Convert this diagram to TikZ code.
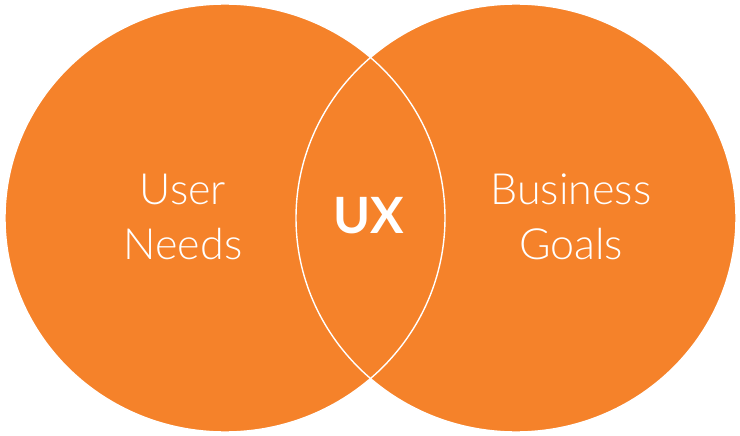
\documentclass[tikz,border=0pt]{standalone}
\usepackage{fontspec}
\newfontfamily\lightfont{Lato Light}
\newfontfamily\boldfont{Lato Bold}
\usetikzlibrary{positioning}
\definecolor{vennorange}{HTML}{F5822A}
\tikzset{
    venn/.style={fill=vennorange, draw=white, line width=1.4pt},
    label/.style={text=white, align=center, font=\lightfont\fontsize{43}{55}\selectfont},
    core/.style={text=white, font=\boldfont\fontsize{50}{50}\selectfont}
}
\begin{document}
\begin{tikzpicture}[x=1pt, y=-1pt]
    \useasboundingbox (0, 0) rectangle (740, 436);

    % Circles
    \fill[vennorange] (225, 218) ellipse [x radius=220, y radius=214];
    \fill[vennorange] (516, 218) ellipse [x radius=220, y radius=214];
    \draw[venn, fill=none] (225, 218) ellipse [x radius=220, y radius=214];
    \draw[venn, fill=none] (516, 218) ellipse [x radius=220, y radius=214];

    % Labels
    \node[label] (user) at (183, 217) {User\\Needs};
    \node[label] (business) at (571, 217) {Business\\Goals};
    \node[core] (ux) at (369, 216) {UX};
\end{tikzpicture}
\end{document}
